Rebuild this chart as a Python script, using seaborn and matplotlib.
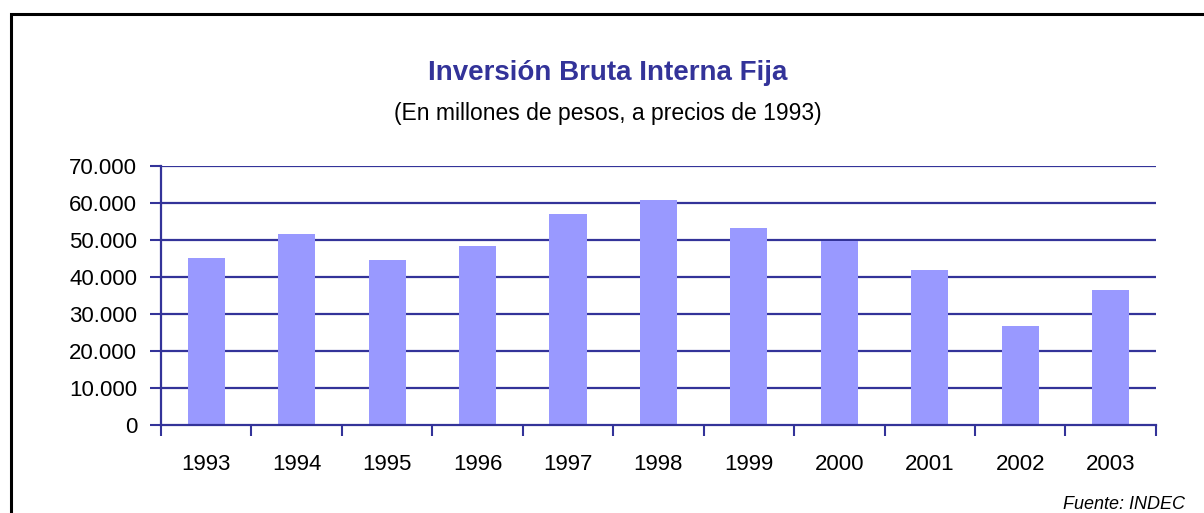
import numpy as np
import pandas as pd
import seaborn as sns
import matplotlib.pyplot as plt
from matplotlib.patches import Rectangle
from matplotlib.ticker import FuncFormatter

years = ['1993', '1994', '1995', '1996', '1997', '1998', '1999', '2000', '2001', '2002', '2003']
inversion = [45100, 51700, 44600, 48400, 57100, 60900, 53300, 49850, 41900, 26700, 36500]
yticks = [0, 10000, 20000, 30000, 40000, 50000, 60000, 70000]

df = pd.DataFrame({'anio': years, 'inversion': inversion})

navy = '#333399'
sns.set_style('white')
plt.rcParams['font.family'] = ['Liberation Sans', 'DejaVu Sans']

fig = plt.figure(figsize=(12.04, 5.13), dpi=100)
ax = fig.add_axes([0.1337, 0.1715, 0.8263, 0.5045])

sns.barplot(data=df, x='anio', y='inversion', color='#9999FF', width=0.41,
            saturation=1, linewidth=0, ax=ax, zorder=3)

ax.set_ylim(0, 70000)
ax.set_xlim(-0.5, len(years) - 0.5)
ax.set_yticks(yticks)
ax.yaxis.set_major_formatter(FuncFormatter(lambda v, p: f'{int(v):,}'.replace(',', '.')))
for v in yticks[1:]:
    ax.axhline(v, color=navy, lw=1.6, zorder=1)

# ticks between categories, labels centred on the bars
ax.set_xticks(np.arange(-0.5, len(years), 1))
ax.set_xticklabels([])
ax.set_xticks(np.arange(len(years)), minor=True)
ax.set_xticklabels(years, minor=True)
ax.tick_params(axis='x', which='major', direction='out', length=8, width=1.5,
               color=navy, bottom=True)
ax.tick_params(axis='x', which='minor', length=0, pad=21, labelsize=16,
               labelcolor='black')
ax.tick_params(axis='y', direction='out', length=8, width=1.5, color=navy,
               left=True, pad=9, labelsize=16, labelcolor='black')
ax.set_xlabel('')
ax.set_ylabel('')

for s in ['top', 'right']:
    ax.spines[s].set_visible(False)
for s in ['left', 'bottom']:
    ax.spines[s].set_color(navy)
    ax.spines[s].set_linewidth(1.6)
    ax.spines[s].set_zorder(4)

fig.text(0.505, 0.858, 'Inversión Bruta Interna Fija', ha='center', va='center',
         fontsize=20, fontweight='bold', color=navy)
fig.text(0.505, 0.779, '(En millones de pesos, a precios de 1993)', ha='center',
         va='center', fontsize=16.5, color='black')
fig.text(0.984, 0.016, 'Fuente: INDEC', ha='right', va='center', fontsize=13,
         style='italic', color='black')

fig.patches.append(Rectangle((10.5 / 1204, -0.1), 1.2, 1 - 13.5 / 513 + 0.1,
                             transform=fig.transFigure, fill=False, lw=2.2,
                             edgecolor='black', clip_on=False))

fig.savefig('out.png', dpi=100)
